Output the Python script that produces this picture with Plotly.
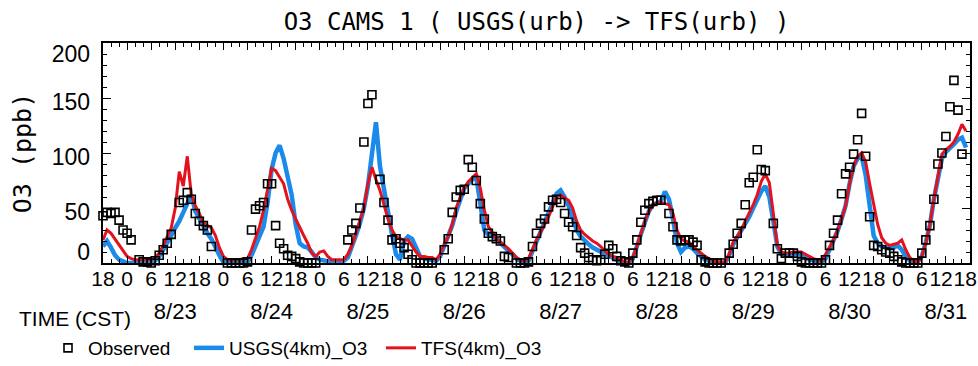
import plotly.graph_objects as go

# ---------------- data (hours since 8/22 18:00 CST) ----------------
model_hours = list(range(216))

tfs_o3 = [
    21, 30, 27, 22, 17, 11, 6, 4, 3, 3, 3, 3, 3, 5, 9, 16, 24, 32, 50, 83, 70, 97, 62, 52,
    45, 36, 34, 32, 25, 14, 6, 3, 3, 3, 3, 4, 4, 12, 22, 33, 48, 66, 86, 84, 78, 72, 58, 48,
    40, 32, 25, 18, 9, 6, 10, 11, 6, 3, 3, 3, 3, 8, 16, 27, 38, 50, 72, 87, 76, 66, 53, 40,
    30, 24, 22, 21, 21, 15, 10, 6, 6, 5, 5, 3, 8, 17, 24, 35, 50, 60, 68, 74, 78, 81, 68, 48,
    33, 27, 22, 19, 16, 13, 9, 5, 3, 2, 4, 13, 21, 28, 35, 42, 51, 60, 62, 59, 57, 50, 38, 30,
    26, 23, 20, 18, 15, 11, 8, 6, 5, 3, 1, 1, 5, 15, 27, 38, 47, 53, 55, 55, 54, 53, 45, 30,
    22, 20, 19, 15, 12, 9, 6, 4, 2, 1, 1, 1, 8, 19, 24, 30, 38, 45, 53, 62, 74, 81, 73, 45,
    16, 10, 9, 9, 10, 10, 10, 8, 6, 4, 3, 2, 8, 14, 21, 30, 40, 52, 72, 88, 97, 100, 92, 72,
    55, 35, 23, 18, 16, 17, 18, 21, 12, 5, 2, 1, 6, 18, 35, 58, 80, 99, 103, 106, 110, 117, 126, 120,
]

usgs_o3 = [
    15, 20, 14, 7, 3, 1, 0, 0, 0, 0, 0, 0, 1, 2, 6, 12, 18, 25, 32, 38, 46, 55, 62, 47,
    40, 32, 27, 22, 14, 7, 1, 0, 0, 0, 0, 0, 1, 7, 15, 25, 33, 55, 85, 100, 107, 95, 80, 62,
    35, 18, 15, 14, 10, 5, 3, 2, 1, 1, 1, 1, 2, 5, 14, 25, 36, 50, 70, 98, 128, 88, 66, 45,
    26, 8, 3, 20, 24, 22, 13, 6, 4, 3, 3, 2, 6, 15, 24, 34, 47, 58, 68, 72, 76, 78, 55, 30,
    26, 25, 22, 18, 14, 11, 8, 4, 2, 1, 2, 11, 20, 28, 36, 45, 55, 63, 66, 60, 52, 42, 30, 24,
    20, 17, 14, 12, 10, 8, 6, 4, 2, 1, 0, 0, 4, 14, 26, 37, 47, 53, 55, 56, 65, 58, 40, 18,
    10, 14, 15, 13, 9, 6, 3, 2, 1, 0, 0, 0, 7, 17, 23, 29, 36, 42, 50, 58, 65, 70, 60, 38,
    15, 8, 7, 8, 9, 8, 7, 5, 3, 2, 1, 1, 4, 12, 20, 29, 40, 52, 72, 88, 95, 97, 80, 50,
    25, 18, 15, 14, 13, 14, 16, 12, 6, 2, 0, 1, 6, 19, 34, 58, 78, 95, 101, 104, 108, 112, 114, 105,
]

obs_hours = [
    0, 1, 2, 3, 4, 5, 6, 7, 9, 10, 11, 12, 13, 14, 15, 16, 17,
    19, 20, 21, 22, 23, 24, 25, 26, 27, 31, 32, 33, 34, 35, 36,
    37, 38, 39, 40, 41, 42, 43, 44, 45, 46, 47, 48, 49, 50, 51, 52, 53,
    61, 62, 63, 64, 65, 66, 67, 69, 70, 71, 72, 73, 74, 75, 76, 77, 78, 79, 80, 81, 82,
    85, 86, 87, 88, 89, 90, 91, 92, 93, 94, 95, 96, 97, 98, 99, 100, 101, 103, 104, 105, 106,
    107, 108, 109, 110, 111, 112, 113, 114, 115, 116, 117, 118, 119, 120, 121, 122, 123, 124,
    125, 126, 127, 128, 129, 130, 131,
    132, 133, 134, 135, 136, 137, 138, 139, 141, 142, 143, 144, 145, 146, 147, 148, 149, 150,
    151, 152, 153, 154,
    156, 157, 158, 159, 160, 161, 162, 163, 164, 165, 167, 168, 169, 170, 171, 172, 173, 174,
    175, 176, 177, 178, 179,
    180, 181, 182, 183, 184, 185, 186, 187, 188, 189, 190, 191, 192, 193, 194, 195, 196, 197,
    198, 199, 200, 201, 202, 203,
    204, 205, 206, 207, 208, 209, 210, 211, 212, 213, 214,
]

obs_o3 = [
    43, 46, 45, 46, 39, 30, 27, 21, 3, 1, 1, 0, 2, 7, 12, 18, 26,
    55, 57, 64, 58, 45, 38, 34, 30, 15, 0, 0, 0, 0, 0, 1,
    30, 49, 52, 55, 72, 72, 34, 18, 13, 7, 6, 4, 1, 0, 0, 0, 0,
    21, 30, 36, 50, 110, 145, 153, 76, 55, 39, 21, 22, 18, 14, 8, 3, 0, 0, 0, 0, 0,
    12, 22, 46, 60, 66, 67, 94, 87, 75, 54, 40, 27, 24, 22, 20, 6, 5, 0, 0, 0, 1,
    15, 27, 36, 40, 51, 57, 58, 55, 45, 37, 33, 25, 14, 9, 5, 3, 2, 3,
    8, 16, 13, 6, 2, 1, 0,
    9, 21, 37, 48, 54, 56, 57, 57, 45, 33, 21, 20, 21, 21, 19, 16, 3, 1,
    0, 0, 0, 0,
    9, 17, 27, 36, 53, 73, 78, 103, 85, 84, 36, 13, 4, 9, 9, 9, 6, 1,
    0, 0, 0, 0, 0,
    3, 16, 27, 39, 63, 81, 87, 99, 112, 136, 97, 42, 16, 15, 12, 10, 9, 6,
    3, 1, 0, 0, 0, 0,
    9, 21, 34, 58, 90, 100, 115, 142, 166, 139, 99,
]

# tick marks every 6 hours, starting 8/22 18:00
hour_of_day_labels = ["18", "0", "6", "12"]
tick_hours = list(range(0, 217, 6))
hour_text = [hour_of_day_labels[i % 4] for i in range(len(tick_hours))]
# hour label positions: at the ticks, except the last two, printed squeezed inside the frame
label_hours = tick_hours[:-2] + [208.8, 214.8]

# date labels under each local noon
date_labels = ["8/23", "8/24", "8/25", "8/26", "8/27", "8/28", "8/29", "8/30", "8/31"]
date_hours = [18, 42, 66, 90, 114, 138, 162, 186, 210]

y_ticks = [0, 50, 100, 150, 200]
y_tick_text = ["0", "50", "100", "150", "200"]
# label positions as printed in the reference (labels sit slightly inward of the end ticks)
y_label_pos = [10.5, 46, 96.8, 146.8, 190.5]

BLUE = "#1b8beb"
RED = "#e3121c"
SANS = "Liberation Sans, Arial, sans-serif"
MONO = "DejaVu Sans Mono, monospace"

fig = go.Figure()

fig.add_trace(go.Scatter(
    x=model_hours, y=usgs_o3, mode="lines", name="USGS(4km)_O3",
    line=dict(color=BLUE, width=4.5), legendrank=2, legendwidth=147,
))
fig.add_trace(go.Scatter(
    x=model_hours, y=tfs_o3, mode="lines", name="TFS(4km)_O3",
    line=dict(color=RED, width=3), legendrank=3,
))
fig.add_trace(go.Scatter(
    x=obs_hours, y=obs_o3, mode="markers", name="Observed",
    marker=dict(symbol="square-open", size=8, color="black", line=dict(width=1.6, color="black")),
    cliponaxis=False, legendrank=1, legendwidth=96,
))
# empty traces that carry the label-only axes
fig.add_trace(go.Scatter(x=[], y=[], xaxis="x2", yaxis="y2", showlegend=False, hoverinfo="skip"))
fig.add_trace(go.Scatter(x=[], y=[], xaxis="x3", yaxis="y", showlegend=False, hoverinfo="skip"))

fig.update_layout(
    width=978, height=366,
    margin=dict(l=103, r=8, t=43, b=103, autoexpand=False),
    paper_bgcolor="white", plot_bgcolor="white",
    font=dict(family=SANS, size=22, color="black"),
    title=dict(
        text="O3 CAMS 1 ( USGS(urb) -> TFS(urb) )",
        font=dict(family=MONO, size=24, color="black"),
        x=0.5, xref="paper", xanchor="center",
        y=1 - 22 / 366, yref="container", yanchor="middle",
    ),
    xaxis=dict(
        range=[0, 216], showgrid=False, zeroline=False, automargin=False,
        showline=True, linecolor="black", linewidth=1.6, mirror="ticks",
        tickmode="array", tickvals=tick_hours, showticklabels=False,
        ticks="inside", ticklen=7, tickwidth=1.4, tickcolor="black",
        minor=dict(dtick=2, tick0=0, ticks="inside", ticklen=4, tickwidth=1.2, tickcolor="black"),
    ),
    xaxis2=dict(
        overlaying="x", side="bottom", anchor="y", range=[0, 216], automargin=False,
        showgrid=False, zeroline=False, showline=False, ticks="",
        tickmode="array", tickvals=label_hours, ticktext=hour_text,
        tickangle=0, tickfont=dict(family=SANS, size=21),
        ticklabelstandoff=1, ticklabeloverflow="allow",
    ),
    xaxis3=dict(
        overlaying="x", side="bottom", anchor="y", range=[0, 216], automargin=False,
        showgrid=False, zeroline=False, showline=False, ticks="",
        tickmode="array", tickvals=date_hours, ticktext=date_labels,
        tickangle=0, tickfont=dict(family=SANS, size=22),
        ticklabelstandoff=33, ticklabeloverflow="allow",
    ),
    yaxis=dict(
        range=[0, 200], showgrid=False, zeroline=False, automargin=False,
        showline=True, linecolor="black", linewidth=1.6, mirror="ticks",
        tickmode="array", tickvals=y_ticks, showticklabels=False,
        ticks="inside", ticklen=8, tickwidth=1.4, tickcolor="black",
        minor=dict(dtick=10, tick0=0, ticks="inside", ticklen=4, tickwidth=1.2, tickcolor="black"),
    ),
    yaxis2=dict(
        overlaying="y", side="left", anchor="x", range=[0, 200], automargin=False,
        showgrid=False, zeroline=False, showline=False, ticks="",
        tickmode="array", tickvals=y_label_pos, ticktext=y_tick_text,
        tickfont=dict(family=SANS, size=23), ticklabelstandoff=12,
        title=dict(text="O3 (ppb)", font=dict(family=MONO, size=25), standoff=12),
    ),
    legend=dict(
        orientation="h", xref="container", x=48 / 978, xanchor="left",
        yref="container", y=1 - 348 / 366, yanchor="middle",
        font=dict(family=SANS, size=19), itemwidth=30, bgcolor="rgba(0,0,0,0)",
        traceorder="normal",
    ),
    annotations=[dict(
        text="TIME (CST)", xref="paper", yref="paper", x=(75 - 103) / 867, y=(263 - 319) / 220,
        xanchor="center", yanchor="middle", showarrow=False, font=dict(family=SANS, size=21),
    )],
    showlegend=True,
)

fig.write_html("out.html")
